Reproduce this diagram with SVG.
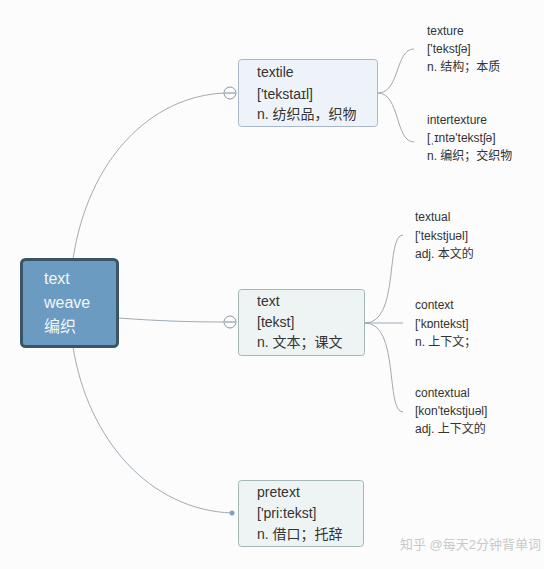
<svg xmlns="http://www.w3.org/2000/svg" width="544" height="569" viewBox="0 0 544 569">
<style>
text{font-family:"Liberation Sans","Noto Sans CJK SC",sans-serif;fill:#333}
.box{font-size:14px}
.leaf{font-size:12px}
.root{font-size:16px;fill:#f2f6fa}
.c{fill:none;stroke:#9eabb4;stroke-width:1}
.blue{fill:#eef3f9;stroke:#a8b8c8;stroke-width:1}
.green{fill:#eef4f4;stroke:#a3b7b7;stroke-width:1}
</style>
<rect width="544" height="569" fill="#fcfcfd"/>
<g id="connectors">
<path class="c" d="M73,259 C88,160 150,96 225,93"/>
<path class="c" d="M118,318 C160,321 190,322 224,322"/>
<path class="c" d="M73,347 C88,440 150,510 232,513"/>
<path class="c" d="M378,93 C400,93 395,49 414,49"/>
<path class="c" d="M378,93 C400,93 395,142 414,142"/>
<path class="c" d="M365,323 C400,323 385,235 403,235"/>
<path class="c" d="M365,323 L403,323"/>
<path class="c" d="M365,323 C400,323 385,412 403,412"/>
</g>
<g id="root">
<rect x="21.5" y="259.5" width="96" height="87" rx="4" fill="#6b9bc0" stroke="#3b5568" stroke-width="3"/>
<text class="root" x="44" y="284">text</text>
<text class="root" x="44" y="308">weave</text>
<text class="root" x="44" y="332">编织</text>
</g>
<g id="textile">
<rect class="blue" x="238.5" y="59.5" width="139" height="67" rx="3"/>
<circle cx="230" cy="93" r="6" fill="#fff" stroke="#8a959e"/>
<line x1="225" y1="93" x2="235" y2="93" stroke="#7a858e"/>
<text class="box" x="257" y="77">textile</text>
<text class="box" x="257" y="99">['tekstaɪl]</text>
<text class="box" x="257" y="119">n. 纺织品，织物</text>
</g>
<g id="text">
<rect class="green" x="238.5" y="289.5" width="126" height="66" rx="3"/>
<circle cx="230" cy="322" r="6" fill="#fff" stroke="#8a959e"/>
<line x1="225" y1="322" x2="235" y2="322" stroke="#7a858e"/>
<text class="box" x="257" y="306">text</text>
<text class="box" x="257" y="327">[tekst]</text>
<text class="box" x="257" y="347">n. 文本；课文</text>
</g>
<g id="pretext">
<rect class="green" x="238.5" y="480.5" width="125" height="66" rx="3"/>
<circle cx="232" cy="513" r="2.5" fill="#7fa3b8"/>
<text class="box" x="257" y="497">pretext</text>
<text class="box" x="257" y="518">['pri:tekst]</text>
<text class="box" x="257" y="539">n. 借口；托辞</text>
</g>
<g id="texture">
<text class="leaf" x="427" y="35">texture</text>
<text class="leaf" x="427" y="53">['tekstʃə]</text>
<text class="leaf" x="427" y="71">n. 结构；本质</text>
</g>
<g id="intertexture">
<text class="leaf" x="427" y="124">intertexture</text>
<text class="leaf" x="427" y="142">[ˌɪntə'tekstʃə]</text>
<text class="leaf" x="427" y="160">n. 编织；交织物</text>
</g>
<g id="textual">
<text class="leaf" x="415" y="221">textual</text>
<text class="leaf" x="415" y="240">['tekstjuəl]</text>
<text class="leaf" x="415" y="258">adj. 本文的</text>
</g>
<g id="context">
<text class="leaf" x="415" y="309">context</text>
<text class="leaf" x="415" y="328">['kɒntekst]</text>
<text class="leaf" x="415" y="346">n. 上下文；</text>
</g>
<g id="contextual">
<text class="leaf" x="415" y="397">contextual</text>
<text class="leaf" x="415" y="415">[kon'tekstjuəl]</text>
<text class="leaf" x="415" y="433">adj. 上下文的</text>
</g>
<text x="400" y="549" font-size="13" style="fill:#c9c9c9">知乎 @每天2分钟背单词</text>
</svg>
